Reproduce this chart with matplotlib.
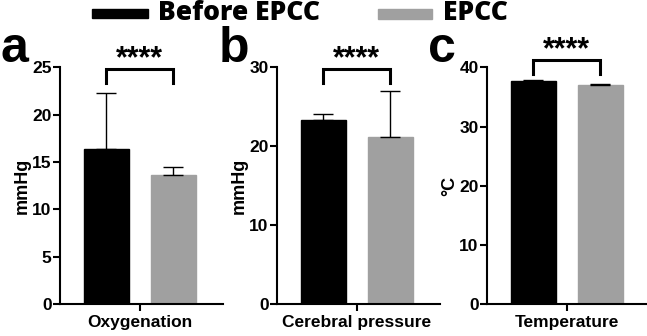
import matplotlib.pyplot as plt
from matplotlib.patches import Rectangle

# values (mean, upper error)
groups = ["Before EPCC", "EPCC"]
bar_colors = ["black", "#a0a0a0"]

oxy_mean = [16.4, 13.6]
oxy_err = [5.9, 0.9]

cereb_mean = [23.3, 21.2]
cereb_err = [0.8, 5.8]

temp_mean = [37.7, 37.1]
temp_err = [0.1, 0.1]

panels = [
    ("a", "Oxygenation", "mmHg", oxy_mean, oxy_err, 25, [0, 5, 10, 15, 20, 25], 0.994, 0.934),
    ("b", "Cerebral pressure", "mmHg", cereb_mean, cereb_err, 30, [0, 10, 20, 30], 0.994, 0.934),
    ("c", "Temperature", "°C", temp_mean, temp_err, 40, [0, 10, 20, 30, 40], 1.032, 0.973),
]

plt.rcParams['font.family'] = ['Liberation Sans', 'DejaVu Sans']
plt.rcParams['font.weight'] = 'bold'

fig = plt.figure(figsize=(6.47, 3.36), dpi=100)
lefts = [0.0927, 0.428, 0.7527]
letter_x = [0.0, 0.338, 0.662]

for left, lx, (letter, xlab, ylab, means, errs, ymax, yticks, btop, bbot) in zip(lefts, letter_x, panels):
    ax = fig.add_axes([left, 0.0952, 0.2527, 0.704])
    x = [0, 1]
    ax.bar(x, means, width=0.67, color=bar_colors, edgecolor=bar_colors, linewidth=1)
    ax.errorbar(x, means, yerr=[[0, 0], errs], fmt='none', ecolor='black',
                elinewidth=1, capsize=7, capthick=1)
    ax.set_xlim(-0.69, 1.75)
    ax.set_ylim(0, ymax)
    ax.set_yticks(yticks)
    ax.set_xticks([0.5])
    ax.set_xticklabels([xlab], fontsize=12.5, fontweight='bold')
    ax.set_ylabel(ylab, fontsize=13, fontweight='bold', labelpad=1)
    for s in ['top', 'right']:
        ax.spines[s].set_visible(False)
    for s in ['left', 'bottom']:
        ax.spines[s].set_linewidth(1.5)
    ax.tick_params(width=1.5, length=5, labelsize=12.5, pad=1)
    ax.tick_params(axis='x', pad=3)
    for lbl in ax.get_yticklabels():
        lbl.set_fontweight('bold')

    # significance bracket
    tr = ax.get_xaxis_transform()
    ax.plot([0, 0, 1, 1], [bbot, btop, btop, bbot], color='black', lw=2.2,
            transform=tr, clip_on=False, solid_joinstyle='miter')
    ax.text(0.5, btop - 0.022, "****", transform=tr, ha='center', va='bottom',
            fontsize=22, fontweight='bold')

    # panel letter
    fig.text(lx, 1 - 62 / 336, letter, fontsize=36, fontweight='bold',
             ha='left', va='baseline')

# legend drawn by hand at the top
fig.patches.append(Rectangle((92 / 647, 1 - 17.5 / 336), 56 / 647, 8 / 336,
                             transform=fig.transFigure, color=bar_colors[0]))
fig.patches.append(Rectangle((378 / 647, 1 - 18.5 / 336), 54 / 647, 9 / 336,
                             transform=fig.transFigure, color=bar_colors[1]))
lfont = {'family': 'Open Sans', 'weight': 'heavy', 'size': 19}
fig.text(158 / 647, 1 - 13 / 336, groups[0], ha='left', va='center', fontdict=lfont)
fig.text(443 / 647, 1 - 13 / 336, groups[1], ha='left', va='center', fontdict=lfont)

fig.savefig("out.png", dpi=100)
